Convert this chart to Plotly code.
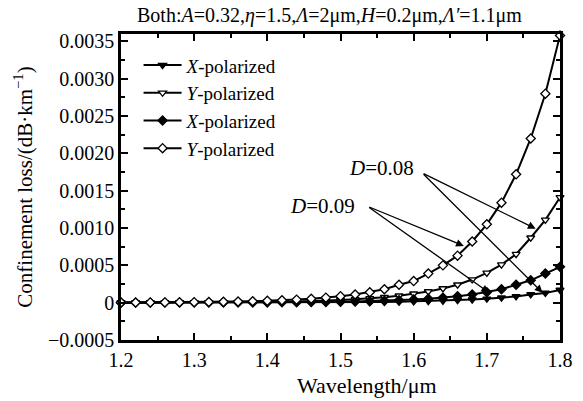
import plotly.graph_objects as go

wavelength = [1.20, 1.22, 1.24, 1.26, 1.28, 1.30, 1.32, 1.34, 1.36, 1.38,
              1.40, 1.42, 1.44, 1.46, 1.48, 1.50, 1.52, 1.54, 1.56, 1.58,
              1.60, 1.62, 1.64, 1.66, 1.68, 1.70, 1.72, 1.74, 1.76, 1.78, 1.80]

# D=0.08
x_pol_d008 = [0.00000013, 0.00000017, 0.00000021, 0.00000027, 0.00000034, 0.00000043,
              0.00000055, 0.0000007, 0.00000088, 0.0000011, 0.0000014, 0.0000018,
              0.0000023, 0.0000029, 0.0000037, 0.0000047, 0.000006, 0.0000077,
              0.0000097, 0.000012, 0.000016, 0.00002, 0.000025, 0.000032,
              0.000041, 0.000052, 0.000066, 0.000084, 0.00011, 0.00013, 0.00017]
y_pol_d008 = [0.0000009, 0.0000011, 0.0000014, 0.0000018, 0.0000023, 0.000003,
              0.0000038, 0.0000049, 0.0000062, 0.000008, 0.00001, 0.000013,
              0.000017, 0.000021, 0.000027, 0.000035, 0.000045, 0.000057,
              0.000073, 0.000093, 0.00012, 0.00015, 0.00019, 0.00024,
              0.00031, 0.0004, 0.00051, 0.00065, 0.00087, 0.00111, 0.00141]
# D=0.09
x_pol_d009 = [0.00000034, 0.00000043, 0.00000055, 0.0000007, 0.0000009, 0.0000011,
              0.0000014, 0.0000018, 0.0000023, 0.0000029, 0.0000037, 0.0000047,
              0.000006, 0.0000076, 0.0000097, 0.000012, 0.000016, 0.00002,
              0.000026, 0.000033, 0.000042, 0.000053, 0.000068, 0.000087,
              0.00011, 0.00014, 0.00018, 0.00024, 0.0003, 0.00039, 0.00048]
y_pol_d009 = [0.0000021, 0.0000027, 0.0000034, 0.0000044, 0.0000056, 0.0000072,
              0.0000092, 0.000012, 0.000015, 0.000019, 0.000025, 0.000032,
              0.000041, 0.000053, 0.000068, 0.000087, 0.00011, 0.00014,
              0.00018, 0.00024, 0.00029, 0.00039, 0.0005, 0.00063,
              0.00082, 0.00105, 0.00134, 0.00172, 0.0022, 0.0028, 0.00358]

x_ticks = [1.2, 1.3, 1.4, 1.5, 1.6, 1.7, 1.8]
y_ticks = [-0.0005, 0, 0.0005, 0.001, 0.0015, 0.002, 0.0025, 0.003, 0.0035]
y_tick_labels = ["\u22120.0005", "0", "0.0005", "0.0010", "0.0015", "0.0020",
                 "0.0025", "0.0030", "0.0035"]

FONT = "Liberation Serif, Times New Roman, serif"

series = [
    (x_pol_d008, "<i>X</i>-polarized", "triangle-down", "black"),
    (y_pol_d008, "<i>Y</i>-polarized", "triangle-down", "white"),
    (x_pol_d009, "<i>X</i>-polarized", "diamond", "black"),
    (y_pol_d009, "<i>Y</i>-polarized", "diamond", "white"),
]

fig = go.Figure()
for vals, name, sym, fill in series:
    fig.add_trace(go.Scatter(
        x=wavelength, y=vals, mode="lines+markers", name=name,
        line=dict(color="black", width=2),
        marker=dict(symbol=sym, size=7, color=fill,
                    line=dict(color="black", width=1.3)),
        cliponaxis=False,
    ))

axis_common = dict(
    showline=True, linecolor="black", linewidth=2.5, mirror="allticks",
    ticks="inside", ticklen=7, tickwidth=2, tickcolor="black",
    showgrid=False, zeroline=False,
    tickfont=dict(family=FONT, size=20, color="black"),
)

fig.update_xaxes(
    range=[1.2, 1.8], tickvals=x_ticks,
    ticktext=[f"{v:.1f}" for v in x_ticks],
    minor=dict(dtick=0.05, tick0=1.2, ticks="inside", ticklen=4,
               tickwidth=2, tickcolor="black"),
    **axis_common,
)
fig.update_yaxes(
    range=[-0.0005, 0.0036], tickvals=y_ticks, ticktext=y_tick_labels,
    minor=dict(dtick=0.00025, tick0=0, ticks="inside", ticklen=4,
               tickwidth=2, tickcolor="black"),
    title=dict(text="Confinement loss/(dB\u00b7km<sup>\u22121</sup>)",
               font=dict(family=FONT, size=21, color="black"), standoff=10),
    **axis_common,
)

annotations = [
    dict(x=1.6035, y=0.0018, text="<i>D</i>=0.08", showarrow=False,
         xanchor="right", yanchor="middle", font=dict(family=FONT, size=21, color="black")),
    dict(x=1.5226, y=0.0013, text="<i>D</i>=0.09", showarrow=False,
         xanchor="right", yanchor="middle", font=dict(family=FONT, size=21, color="black")),
]
arrows = [
    ((1.6115, 0.00174), (1.7668, 0.00099)),
    ((1.6115, 0.00174), (1.7761, 0.000134)),
    ((1.5372, 0.00129), (1.6686, 0.00076)),
    ((1.5372, 0.00129), (1.7031, 0.000134)),
]
for (tx, ty), (hx, hy) in arrows:
    annotations.append(dict(
        x=hx, y=hy, ax=tx, ay=ty, xref="x", yref="y", axref="x", ayref="y",
        text="", showarrow=True, arrowhead=2, arrowsize=1.2, arrowwidth=1.3,
        arrowcolor="black", standoff=0, startstandoff=0,
    ))
# chart title
annotations.append(dict(
    x=0.475, y=1.0, xref="paper", yref="paper", yanchor="bottom", yshift=5,
    text="Both:<i>A</i>=0.32,<i>\u03b7</i>=1.5,<i>\u039b</i>=2\u03bcm,<i>H</i>=0.2\u03bcm,<i>\u039b\u2032</i>=1.1\u03bcm",
    showarrow=False, font=dict(family=FONT, size=20, color="black"),
))
# x-axis title
annotations.append(dict(
    x=0.56, y=-0.15, xref="paper", yref="paper", xanchor="center", yanchor="middle",
    text="Wavelength/\u03bcm", showarrow=False,
    font=dict(family=FONT, size=22, color="black"),
))

fig.update_layout(
    width=583, height=401,
    margin=dict(l=121, r=10, t=34, b=61),
    plot_bgcolor="white", paper_bgcolor="white",
    font=dict(family=FONT, size=20, color="black"),
    showlegend=True,
    legend=dict(x=0.04, y=0.96, xanchor="left", yanchor="top",
                bgcolor="rgba(0,0,0,0)", font=dict(family=FONT, size=19, color="black"),
                itemwidth=38, tracegroupgap=0),
    annotations=annotations,
)

fig.write_html(
    "out.html",
    config={"displayModeBar": False},
    post_script="document.body.style.margin='0px';document.body.style.overflow='hidden';",
)
